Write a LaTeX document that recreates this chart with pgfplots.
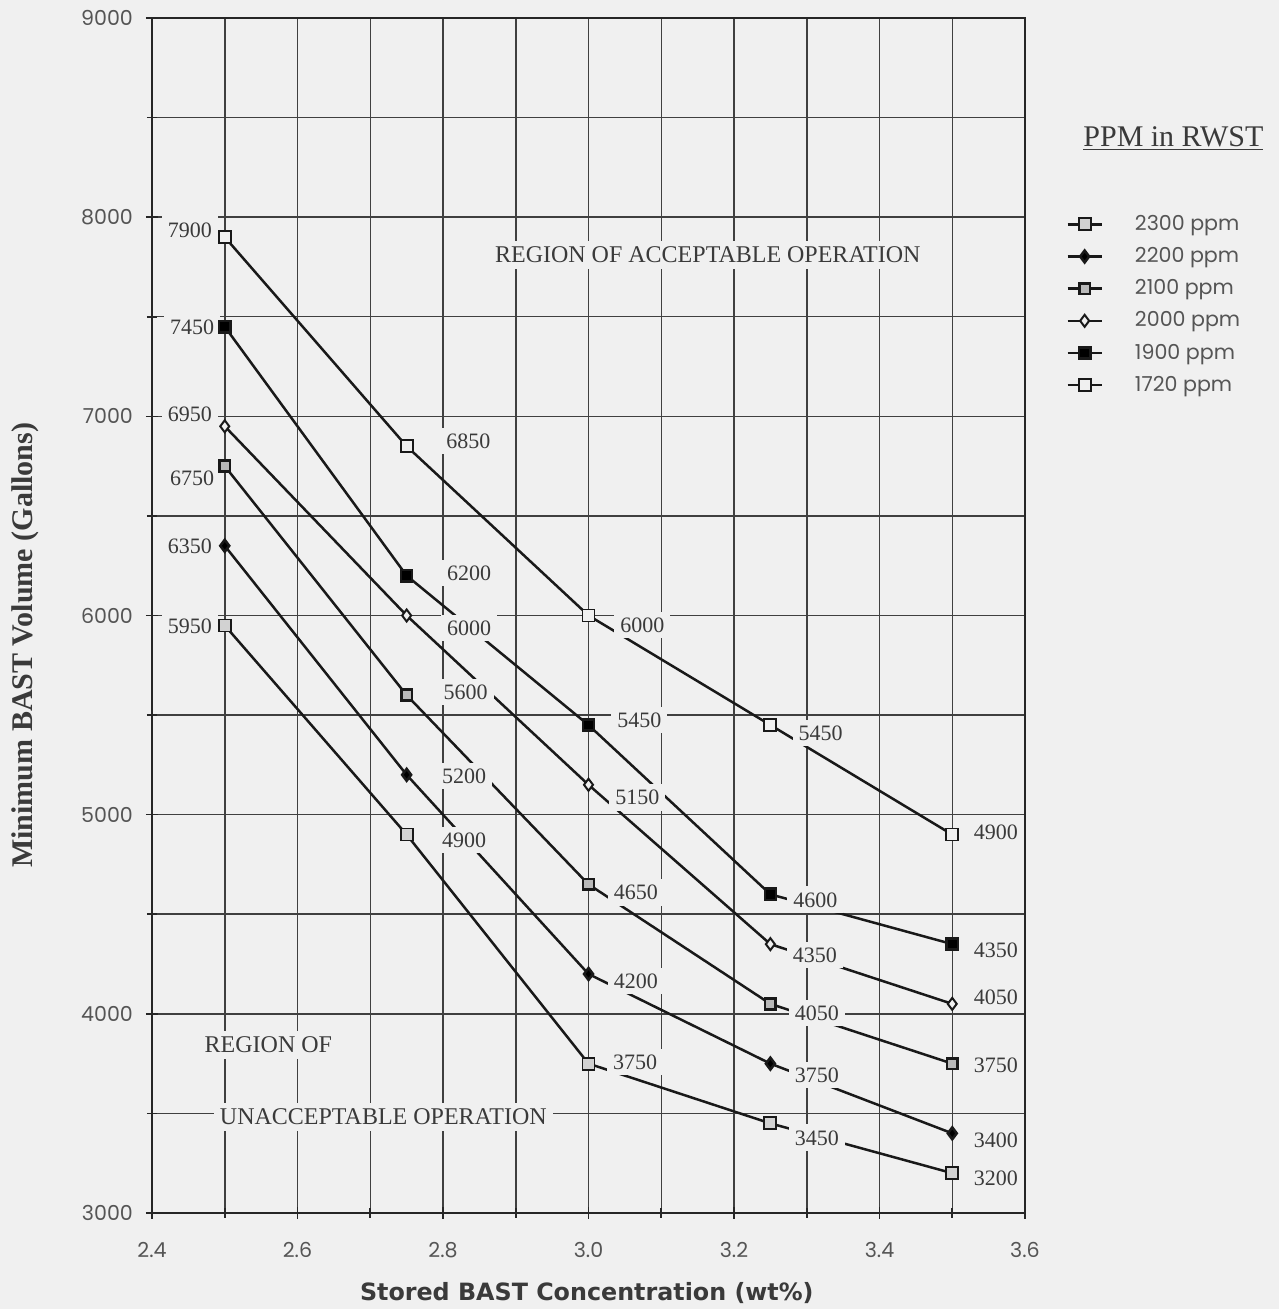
\documentclass[border=0pt]{standalone}
\usepackage{pgfplots}
\pgfplotsset{compat=1.18}
\usepackage{fontspec}
\setmainfont{Liberation Serif}
\newfontfamily\pop{Poppins}
\newfontfamily\djb{DejaVu Sans}
\definecolor{bgc}{gray}{0.94}
\definecolor{txt}{HTML}{3A3A3A}
\definecolor{tck}{HTML}{555555}
\definecolor{grd}{HTML}{404040}
\begin{document}
\begin{tikzpicture}
\fill[bgc] (-76pt,-48pt) rectangle (563.5pt,606.5pt);
\begin{axis}[
  scale only axis, width=436.5pt, height=597.5pt,
  xmin=2.4, xmax=3.6, ymin=3000, ymax=9000,
  xtick={2.4,2.6,...,3.61}, minor xtick={2.5,2.7,...,3.51},
  ytick={3000,4000,...,9000}, minor ytick={3500,4500,...,8500},
  xtick pos=bottom, ytick pos=left,
  grid=both,
  major grid style={grd, line width=0.75pt},
  minor grid style={grd, line width=0.75pt},
  axis line style={black!85, line width=1pt},
  tick align=center, major tick length=6pt, minor tick length=5pt,
  tick style={black!85, line width=0.8pt},
  xticklabel style={/pgf/number format/fixed, /pgf/number format/fixed zerofill, /pgf/number format/precision=1, yshift=-8pt},
  yticklabel style={/pgf/number format/1000 sep={}, xshift=-3pt},
  /pgf/number format/assume math mode=true,
  ticklabel style={font=\pop\fontsize{10.3}{12}\selectfont, text=tck},
  xlabel={Stored BAST Concentration (wt\%)},
  ylabel={Minimum BAST Volume (Gallons)},
  xlabel style={font=\djb\bfseries\fontsize{11.9}{14}\selectfont, text=txt, at={(axis description cs:0.498,-0.067)}, anchor=center},
  ylabel style={font=\bfseries\fontsize{15}{17}\selectfont, text=txt, at={(axis description cs:-0.1455,0.475)}, anchor=center},
  clip=false,
  legend style={at={(axis description cs:1.04,0.842)}, anchor=north west, draw=none, fill=none,
    font=\pop\fontsize{10.3}{12}\selectfont, text=tck, row sep=3pt},
  legend cell align=left,
  every axis plot/.append style={line width=1.25pt, color=black!90},
]
\addplot[mark=square*, mark size=3pt, mark options={fill=gray!35, line width=0.9pt}] coordinates {(2.5,5950) (2.75,4900) (3.0,3750) (3.25,3450) (3.5,3200)};
\addlegendentry{\hspace{14pt}2300 ppm}
\addplot[mark=diamond*, mark size=3pt, mark options={fill=black}] coordinates {(2.5,6350) (2.75,5200) (3.0,4200) (3.25,3750) (3.5,3400)};
\addlegendentry{\hspace{14pt}2200 ppm}
\addplot[mark=square*, mark size=2.7pt, mark options={fill=gray!55, line width=1.3pt}] coordinates {(2.5,6750) (2.75,5600) (3.0,4650) (3.25,4050) (3.5,3750)};
\addlegendentry{\hspace{14pt}2100 ppm}
\addplot[mark=diamond*, mark size=3pt, mark options={fill=bgc, line width=1pt}] coordinates {(2.5,6950) (2.75,6000) (3.0,5150) (3.25,4350) (3.5,4050)};
\addlegendentry{\hspace{14pt}2000 ppm}
\addplot[mark=square*, mark size=2.8pt, mark options={fill=black}] coordinates {(2.5,7450) (2.75,6200) (3.0,5450) (3.25,4600) (3.5,4350)};
\addlegendentry{\hspace{14pt}1900 ppm}
\addplot[mark=square*, mark size=3pt, mark options={fill=bgc, line width=0.9pt}] coordinates {(2.5,7900) (2.75,6850) (3.0,6000) (3.25,5450) (3.5,4900)};
\addlegendentry{\hspace{14pt}1720 ppm}
% value labels
\begin{scope}[every node/.style={font=\fontsize{11}{13}\selectfont, text=txt, fill=bgc, inner sep=3pt}]
\node at (axis cs:2.452,7936) {7900};
\node at (axis cs:2.455,7449) {7450};
\node at (axis cs:2.452,7012) {6950};
\node at (axis cs:2.455,6690) {6750};
\node at (axis cs:2.452,6349) {6350};
\node at (axis cs:2.452,5947) {5950};
\node at (axis cs:2.835,6876) {6850};
\node at (axis cs:2.836,6213) {6200};
\node at (axis cs:2.836,5937) {6000};
\node at (axis cs:2.831,5616) {5600};
\node at (axis cs:2.829,5194) {5200};
\node at (axis cs:2.829,4873) {4900};
\node at (axis cs:3.074,5952) {6000};
\node at (axis cs:3.070,5475) {5450};
\node at (axis cs:3.067,5088) {5150};
\node at (axis cs:3.065,4611) {4650};
\node at (axis cs:3.065,4165) {4200};
\node at (axis cs:3.064,3758) {3750};
\node at (axis cs:3.319,5410) {5450};
\node at (axis cs:3.312,4572) {4600};
\node at (axis cs:3.311,4295) {4350};
\node at (axis cs:3.314,4004) {4050};
\node at (axis cs:3.314,3693) {3750};
\node at (axis cs:3.314,3377) {3450};
\node at (axis cs:3.560,4913) {4900};
\node at (axis cs:3.560,4320) {4350};
\node at (axis cs:3.560,4084) {4050};
\node at (axis cs:3.560,3743) {3750};
\node at (axis cs:3.560,3366) {3400};
\node at (axis cs:3.560,3176) {3200};
\node[font=\fontsize{12}{14}\selectfont] at (axis cs:3.164,7810) {REGION OF ACCEPTABLE OPERATION};
\node[font=\fontsize{12}{14}\selectfont] at (axis cs:2.560,3844) {REGION OF};
\node[font=\fontsize{12}{14}\selectfont] at (axis cs:2.718,3482) {UNACCEPTABLE OPERATION};
\end{scope}
\node[font=\fontsize{15}{17}\selectfont, text=txt, anchor=center] at (axis description cs:1.17,0.899) {\underline{PPM in RWST}};
\end{axis}
\pgfresetboundingbox
\path (-76pt,-48pt) rectangle (563.5pt,606.5pt);
\end{tikzpicture}
\end{document}
